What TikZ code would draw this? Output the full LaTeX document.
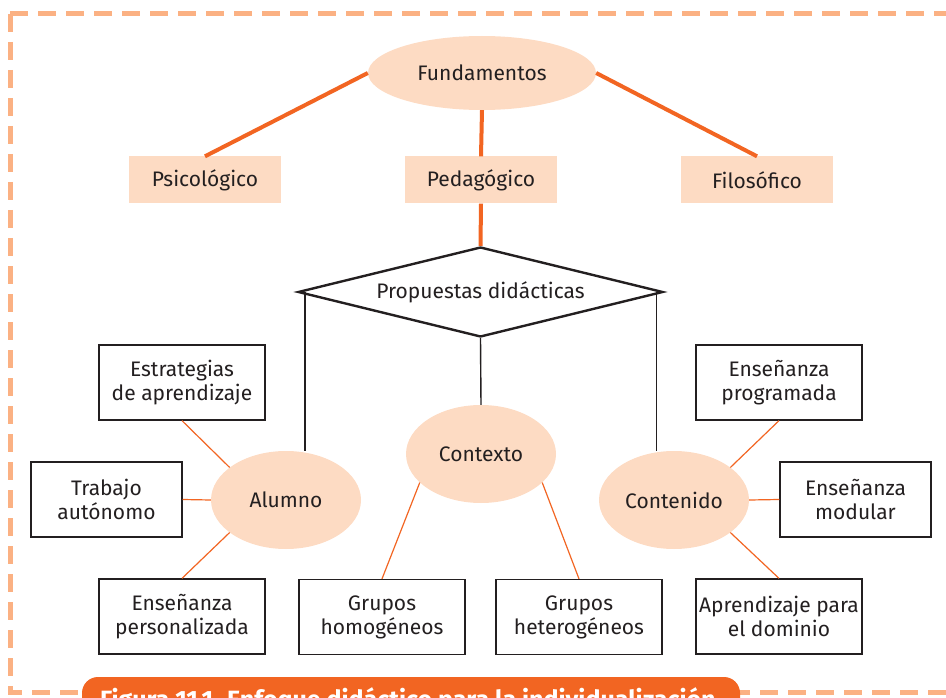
\documentclass[tikz,border=0pt]{standalone}
\usepackage{fontspec}
\setmainfont{Fira Sans}
\usetikzlibrary{shapes.geometric}
\definecolor{naranja}{HTML}{F26522}
\definecolor{durazno}{HTML}{FDDBC3}
\definecolor{borde}{HTML}{FBB183}
\definecolor{tinta}{HTML}{231F20}
\tikzset{
  texto/.style={text=tinta, font=\fontsize{21}{24}\selectfont, align=center, inner sep=0pt},
  elipse/.style={texto, ellipse, fill=durazno, minimum width=150pt, minimum height=98pt},
  base/.style={texto, fill=durazno, minimum width=152pt, minimum height=47pt},
  caja/.style={texto, draw=tinta, line width=1.3pt, fill=white, minimum width=166pt, minimum height=75pt},
  grueso/.style={naranja, line width=4pt},
  fino/.style={naranja, line width=1.2pt},
  negro/.style={tinta, line width=1.4pt}
}
\begin{document}
\begin{tikzpicture}[x=1pt,y=-1pt]
  \useasboundingbox (0,0) rectangle (946,698);
  \clip (0,0) rectangle (946,698);
  % marco punteado
  \draw[borde, line width=5pt, dash pattern=on 18pt off 10pt] (10,14) -- (960,14);
  \draw[borde, line width=5pt, dash pattern=on 18pt off 10pt] (10,14) -- (10,692) -- (960,692);
  % fundamentos
  \node[texto, ellipse, fill=durazno, minimum width=228pt, minimum height=74pt] (fund) at (482,73) {Fundamentos};
  \node[base] (psico) at (205,180) {Psicológico};
  \node[base] (peda) at (481,180) {Pedagógico};
  \node[base] (filo) at (757,180) {Filosófico};
  \draw[grueso] (fund.west) -- (psico.north);
  \draw[grueso] (fund.south) -- (peda.north);
  \draw[grueso] (fund.east) -- (filo.north);
  % propuestas didacticas
  \node[texto, diamond, aspect=4.05, draw=tinta, line width=2.4pt, fill=white, minimum width=365pt, minimum height=90pt] (prop) at (480.5,292) {Propuestas didácticas};
  \draw[grueso] (peda.south) -- (prop.north);
  \node[elipse] (alumno) at (286,500) {Alumno};
  \node[elipse] (contexto) at (481,454) {Contexto};
  \node[elipse] (contenido) at (674,500) {Contenido};
  \draw[negro] (prop.west) ++(8,0) coordinate (pi) -- (pi |- alumno.north);
  \draw[negro] (prop.south) -- (contexto.north);
  \draw[negro] (prop.east) ++(-8,0) coordinate (pd) -- (pd |- contenido.north);
  % recuadros
  \node[caja] (estra) at (182,382.5) {Estrategias\\de aprendizaje};
  \node[caja, minimum width=151pt] (trab) at (106.5,499.5) {Trabajo\\autónomo};
  \node[caja] (perso) at (182,616.5) {Enseñanza\\personalizada};
  \node[caja] (homo) at (382,617) {Grupos\\homogéneos};
  \node[caja] (hetero) at (579,617) {Grupos\\heterogéneos};
  \node[caja] (progra) at (779,382.5) {Enseñanza\\programada};
  \node[caja, minimum width=151pt] (modu) at (855.5,499.5) {Enseñanza\\modular};
  \node[caja] (domi) at (779,616.5) {Aprendizaje para\\el dominio};
  \foreach \a/\b in {estra.south/alumno.150, trab.east/alumno.west, perso.north/alumno.210,
                     homo.north/contexto.205, hetero.north/contexto.335,
                     progra.south/contenido.30, modu.west/contenido.east, domi.north/contenido.330}
    \draw[fino] (\a) -- (\b);
  % pie de figura
  \fill[naranja, rounded corners=16pt] (82,730) -- (82,677) -- (740,677) -- (740,730) -- cycle;
  \node[anchor=base west, text=white, inner sep=0pt, font=\bfseries\fontsize{25}{29}\selectfont] (pie) at (100,708) {Figura 11.1. Enfoque didáctico para la individualización};
\end{tikzpicture}
\end{document}
